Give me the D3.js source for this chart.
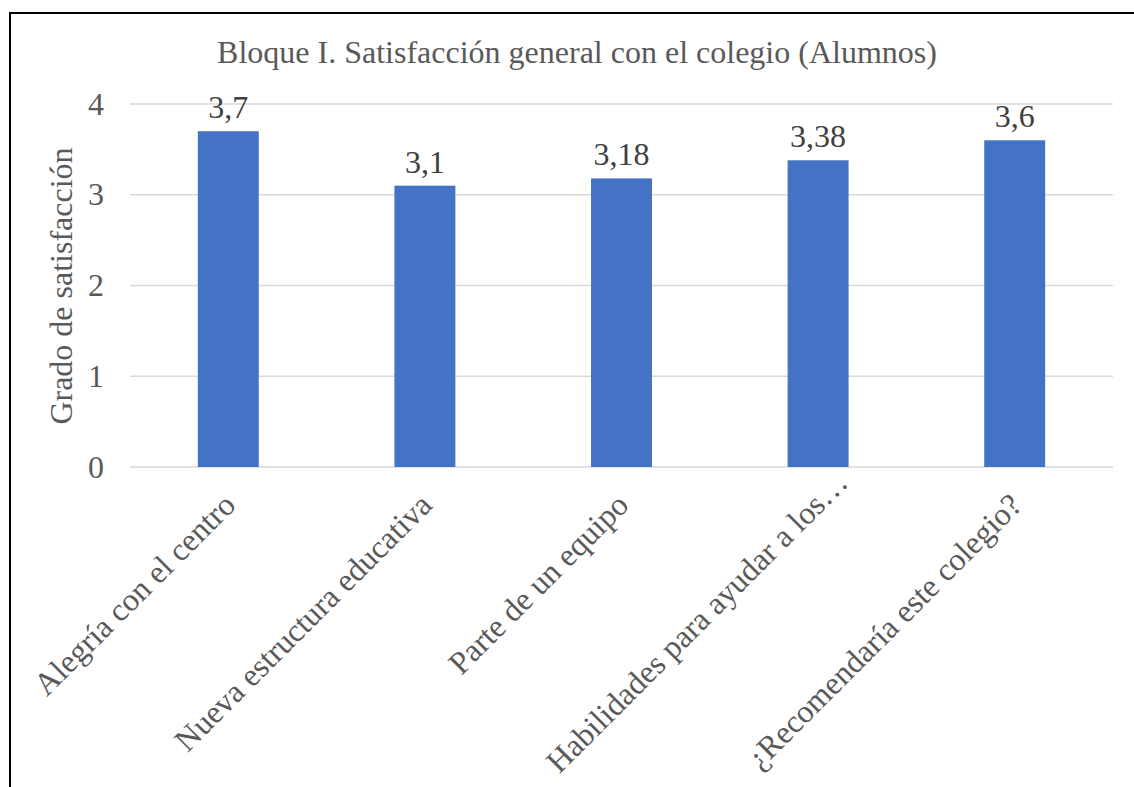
<!DOCTYPE html>
<html>
<head>
<meta charset="utf-8">
<script src="https://cdn.jsdelivr.net/npm/d3@7"></script>
<style>
  body { margin: 0; background: #fff; }
  svg text { font-family: "Liberation Serif", "Times New Roman", serif; fill: #595959; }
</style>
</head>
<body>
<div id="chart"></div>
<script>
var categories = ["Alegría con el centro", "Nueva estructura educativa", "Parte de un equipo",
    "Habilidades para ayudar a los…", "¿Recomendaría este colegio?"];
var values = [3.7, 3.1, 3.18, 3.38, 3.6];
var valueLabels = ["3,7", "3,1", "3,18", "3,38", "3,6"];
var yTicks = [0, 1, 2, 3, 4];
var title = "Bloque I. Satisfacción general con el colegio (Alumnos)";
var yTitle = "Grado de satisfacción";

var width = 1134, height = 787;
var plotLeft = 130, plotRight = 1113, plotTop = 104, plotBottom = 467;

var svg = d3.select("#chart").append("svg")
    .attr("width", width)
    .attr("height", height);

// outer frame, runs off the right and bottom edges like the screenshot
svg.append("rect")
    .attr("x", 10).attr("y", 13)
    .attr("width", 1200).attr("height", 900)
    .attr("fill", "none")
    .attr("stroke", "#000")
    .attr("stroke-width", 2);

var x = d3.scaleBand().domain(categories).range([plotLeft, plotRight]).padding(0);
var y = d3.scaleLinear().domain([0, 4]).range([plotBottom, plotTop]);
var barWidth = x.bandwidth() * 0.31;

// gridlines
svg.append("g").selectAll("line")
    .data(yTicks)
    .enter().append("line")
    .attr("x1", plotLeft).attr("x2", plotRight)
    .attr("y1", function (d) { return y(d); })
    .attr("y2", function (d) { return y(d); })
    .attr("stroke", "#d9d9d9")
    .attr("stroke-width", 1.5);

// y tick labels
svg.append("g").selectAll("text")
    .data(yTicks)
    .enter().append("text")
    .attr("x", 104)
    .attr("y", function (d) { return y(d); })
    .attr("dy", "0.33em")
    .attr("text-anchor", "end")
    .attr("font-size", "32px")
    .text(function (d) { return d; });

// bars
svg.append("g").selectAll("rect")
    .data(values)
    .enter().append("rect")
    .attr("x", function (d, i) { return x(categories[i]) + x.bandwidth() / 2 - barWidth / 2; })
    .attr("y", function (d) { return y(d); })
    .attr("width", barWidth)
    .attr("height", function (d) { return y(0) - y(d); })
    .attr("fill", "#4472c4");

// value labels
svg.append("g").selectAll("text")
    .data(values)
    .enter().append("text")
    .attr("x", function (d, i) { return x(categories[i]) + x.bandwidth() / 2; })
    .attr("y", function (d) { return y(d) - 13; })
    .attr("text-anchor", "middle")
    .attr("font-size", "32px")
    .style("fill", "#404040")
    .text(function (d, i) { return valueLabels[i]; });

// category labels, rotated; a truncated label overhangs by its ellipsis
svg.append("g").selectAll("text")
    .data(categories)
    .enter().append("text")
    .attr("transform", function (d) {
        return "translate(" + (x(d) + x.bandwidth() / 2 + 1) + "," + (plotBottom + 32) + ") rotate(-45)";
    })
    .attr("text-anchor", "end")
    .attr("dx", function (d) { return d.slice(-1) === "…" ? "1em" : 0; })
    .attr("dy", "0.35em")
    .attr("font-size", "32px")
    .text(function (d) { return d; });

// title
svg.append("text")
    .attr("x", 577)
    .attr("y", 63)
    .attr("text-anchor", "middle")
    .attr("font-size", "32px")
    .text(title);

// y axis title
svg.append("text")
    .attr("transform", "translate(72," + 286 + ") rotate(-90)")
    .attr("text-anchor", "middle")
    .attr("font-size", "32px")
    .text(yTitle);
</script>
</body>
</html>
